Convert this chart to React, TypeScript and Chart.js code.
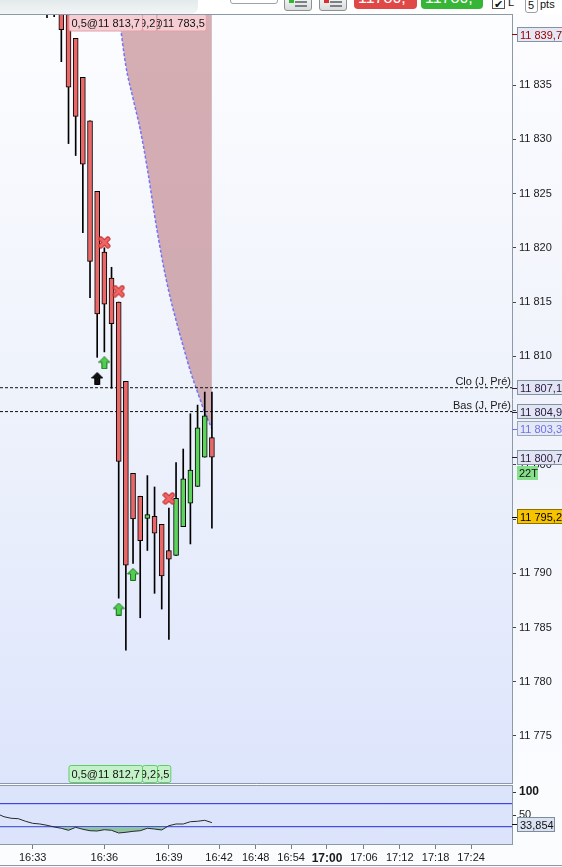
import React, { useEffect, useRef } from 'react';
import { Chart, registerables } from 'chart.js';

Chart.register(...registerables);
Chart.defaults.font.family = "'Liberation Sans', Arial, sans-serif";

// ---- data ----
const candleIdx = [0, 1, 2, 3, 4, 5, 6, 7, 8, 9, 10, 11, 12, 13, 14, 15, 16, 17, 18, 19, 20, 21, 22, 23];
const candleOpen = [11846.0, 11845.0, 11843.0, 11842.5, 11839.3, 11835.7, 11831.7, 11825.2, 11819.6, 11817.2, 11815.0, 11807.7, 11799.2, 11797.1, 11795.05, 11795.25, 11794.5, 11792.1, 11791.65, 11794.3, 11796.45, 11798.0, 11800.7, 11802.5];
const candleHigh = [11848.0, 11846.5, 11844.0, 11843.0, 11839.3, 11835.7, 11831.7, 11825.2, 11820.0, 11818.2, 11815.0, 11807.7, 11799.2, 11797.1, 11799.0, 11797.95, 11794.5, 11796.0, 11800.2, 11801.45, 11804.7, 11805.5, 11806.7, 11806.7];
const candleLow = [11841.2, 11841.3, 11837.15, 11829.6, 11828.5, 11821.4, 11815.4, 11809.9, 11810.4, 11807.05, 11787.7, 11782.9, 11790.9, 11785.9, 11792.1, 11788.15, 11786.7, 11783.9, 11791.65, 11794.3, 11792.7, 11798.0, 11800.7, 11794.15];
const candleClose = [11843.0, 11842.5, 11840.1, 11834.8, 11832.1, 11827.7, 11818.75, 11813.9, 11814.8, 11813.0, 11800.3, 11790.75, 11795.0, 11793.0, 11795.4, 11793.7, 11789.75, 11791.3, 11796.9, 11798.7, 11799.5, 11803.4, 11804.5, 11800.7];

const rsiIdx = [-7, -6, -5, -4, -3, -2, -1, 0, 1, 2, 3, 4, 5, 6, 7, 8, 9, 10, 11, 12, 13, 14, 15, 16, 17, 18, 19, 20, 21, 22, 23];
const rsiVal = [53.4, 46.7, 43.3, 42.4, 36.8, 32.4, 30.9, 28.1, 24.4, 21.6, 17.2, 23.7, 19.4, 16.3, 15.7, 18.5, 17.2, 11.4, 12.9, 15.0, 16.3, 21.6, 20.0, 17.9, 27.2, 30.9, 30.9, 35.9, 36.8, 38.9, 33.854];
const rsiBands = [75, 25];
const rsiTicks = [50, 100];

const curveIdx = [10, 11, 12, 13, 14, 15, 16, 17, 18, 19, 20, 21, 22, 23];
const curveVal = [11841.6, 11836.75, 11833.76, 11830.9, 11827.26, 11823.02, 11819.15, 11815.94, 11813.3, 11810.92, 11808.61, 11806.68, 11804.84, 11803.3];

const sellIdx = [8, 10, 17];
const sellPx = [11820.5, 11816.0, 11796.9];
const buyIdx = [8, 10, 12];
const buyPx = [11809.4, 11786.7, 11789.9];
const entryIdx = [7];
const entryPx = [11807.95];

const priorLevels = [11807.1, 11804.9];
const priorLabels = ['Clo (J, Pré)', 'Bas (J, Pré)'];

const tagValues = [11839.7, 11807.1, 11804.9, 11803.3, 11800.7, 11795.2];
const barCountLabel = '22T';
const rsiLast = 33.854;

const topOrderTags = ['0,5@11 813,7', '0,5@11 799,2', '0,5@11 783,5'];
const bottomOrderTags = ['0,5@11 812,7', '0,5@11 799,2', '0,5@11 785,5'];

const priceTicks = [11775, 11780, 11785, 11790, 11795, 11800, 11805, 11810, 11815, 11820, 11825, 11830, 11835];
const timeTickPos = [-2, 8, 17, 24, 29.1, 34.05, 39.05, 44.2, 49.2, 54.2, 59.15];
const timeTickLabels = ['16:33', '16:36', '16:39', '16:42', '16:48', '16:54', '17:00', '17:06', '17:12', '17:18', '17:24'];

// ---- view settings ----
const X_MIN = -6.555;
const X_MAX = 64.854;
const Y_MIN = 11770.576;
const Y_MAX = 11841.544;
const R_MIN = -12.53;
const R_MAX = 115.57;

const TOP_TAG_WIDTHS = [73.5, 14.4, 49.4];
const BOTTOM_TAG_WIDTHS = [73.5, 15, 13.3];

const tagStyles = [
  { color: '#a00000', fill: '#e3e8f4', border: '#8493a3' },
  { color: '#2b1846', fill: '#e0e5f1', border: '#8493a3' },
  { color: '#2b1846', fill: '#e0e5f1', border: '#8493a3' },
  { color: '#7070ee', fill: '#e3e8f4', border: '#9aa7b6' },
  { color: '#2b1846', fill: '#e0e5f1', border: '#8493a3' },
  { color: '#000000', fill: '#f7c300', border: '#8a7000' },
];

const FRAME = '#8b9aa6';
const FONT = "'Liberation Sans', Arial, sans-serif";

function fmtNum(v: number, dec: number): string {
  const s = v.toFixed(dec);
  const [ip, dp] = s.split('.');
  const w = ip.replace(/\B(?=(\d{3})+(?!\d))/g, ' ');
  return dp ? w + ',' + dp : w;
}

function makeCross(): HTMLCanvasElement {
  const c = document.createElement('canvas');
  c.width = 13;
  c.height = 13;
  const g = c.getContext('2d')!;
  g.lineCap = 'round';
  const path = () => {
    g.beginPath();
    g.moveTo(3, 3);
    g.lineTo(10, 10);
    g.moveTo(10, 3);
    g.lineTo(3, 10);
  };
  g.strokeStyle = '#c03030';
  g.lineWidth = 5;
  path();
  g.stroke();
  g.strokeStyle = '#f26565';
  g.lineWidth = 3;
  path();
  g.stroke();
  return c;
}

function makeArrow(fill: string, stroke: string): HTMLCanvasElement {
  const c = document.createElement('canvas');
  c.width = 12;
  c.height = 13;
  const g = c.getContext('2d')!;
  g.beginPath();
  g.moveTo(6, 0.5);
  g.lineTo(11.5, 6);
  g.lineTo(8.5, 6);
  g.lineTo(8.5, 12.5);
  g.lineTo(3.5, 12.5);
  g.lineTo(3.5, 6);
  g.lineTo(0.5, 6);
  g.closePath();
  g.fillStyle = fill;
  g.fill();
  g.strokeStyle = stroke;
  g.lineWidth = 1;
  g.stroke();
  return c;
}

function rr(ctx: CanvasRenderingContext2D, x: number, y: number, w: number, h: number, r: number) {
  ctx.beginPath();
  ctx.moveTo(x + r, y);
  ctx.lineTo(x + w - r, y);
  ctx.quadraticCurveTo(x + w, y, x + w, y + r);
  ctx.lineTo(x + w, y + h - r);
  ctx.quadraticCurveTo(x + w, y + h, x + w - r, y + h);
  ctx.lineTo(x + r, y + h);
  ctx.quadraticCurveTo(x, y + h, x, y + h - r);
  ctx.lineTo(x, y + r);
  ctx.quadraticCurveTo(x, y, x + r, y);
  ctx.closePath();
}

function drawOrderRow(ctx: CanvasRenderingContext2D, left: number, top: number, texts: string[], widths: number[], fill: string, stroke: string) {
  let x = left;
  texts.forEach((t, i) => {
    const w = widths[i];
    ctx.save();
    rr(ctx, x + 0.5, top + 0.5, w, 17, 2);
    ctx.fillStyle = fill;
    ctx.fill();
    ctx.strokeStyle = stroke;
    ctx.lineWidth = 1;
    ctx.stroke();
    ctx.clip();
    ctx.fillStyle = '#111';
    ctx.font = `11px ${FONT}`;
    ctx.textBaseline = 'alphabetic';
    if (i === 0) {
      ctx.textAlign = 'left';
      ctx.fillText(t, x + 3, top + 13);
    } else {
      ctx.textAlign = 'right';
      ctx.fillText(t, x + w - 1, top + 13);
    }
    ctx.restore();
    x += w;
  });
}

function drawAxisTag(ctx: CanvasRenderingContext2D, right: number, y: number, text: string, st: { color: string; fill: string; border: string }, w: number) {
  ctx.save();
  const top = Math.round(y - 7.5) + 0.5;
  ctx.strokeStyle = st.color;
  ctx.lineWidth = 1;
  ctx.beginPath();
  ctx.moveTo(right, Math.round(y) + 0.5);
  ctx.lineTo(right + 5, Math.round(y) + 0.5);
  ctx.stroke();
  ctx.fillStyle = st.fill;
  ctx.fillRect(right + 5.5, top, w, 14);
  ctx.strokeStyle = st.border;
  ctx.strokeRect(right + 5.5, top, w, 14);
  ctx.fillStyle = st.color;
  ctx.font = `11px ${FONT}`;
  ctx.textAlign = 'left';
  ctx.textBaseline = 'alphabetic';
  ctx.fillText(text, right + 8, top + 11);
  ctx.restore();
}

const mainPlugin = {
  id: 'mainDecor',
  beforeDraw(chart: any) {
    const { ctx, chartArea: a, width, height } = chart;
    ctx.save();
    const g = ctx.createLinearGradient(0, a.top, 0, a.bottom);
    g.addColorStop(0, '#fcfdff');
    g.addColorStop(0.5, '#eef2fb');
    g.addColorStop(1, '#dde5fc');
    ctx.fillStyle = g;
    ctx.fillRect(a.left, a.top, a.right - a.left, a.bottom - a.top);
    const g2 = ctx.createLinearGradient(0, a.top, 0, height);
    g2.addColorStop(0, '#fdfdff');
    g2.addColorStop(0.5, '#eff2fb');
    g2.addColorStop(1, '#fbfcff');
    ctx.fillStyle = g2;
    ctx.fillRect(a.right, a.top, width - a.right, height - a.top);
    ctx.restore();
  },
  afterDraw(chart: any) {
    const { ctx, chartArea: a, scales } = chart;
    const ys = scales.y;
    const xs = scales.x;
    ctx.save();
    // frame
    ctx.strokeStyle = FRAME;
    ctx.lineWidth = 1;
    ctx.beginPath();
    ctx.moveTo(0, a.top + 0.5);
    ctx.lineTo(a.right + 0.5, a.top + 0.5);
    ctx.moveTo(0, a.bottom - 0.5);
    ctx.lineTo(a.right + 0.5, a.bottom - 0.5);
    ctx.stroke();
    // prior-day level labels
    ctx.fillStyle = '#1a1a1a';
    ctx.font = `11px ${FONT}`;
    ctx.textAlign = 'right';
    ctx.textBaseline = 'alphabetic';
    priorLevels.forEach((lv, i) => {
      ctx.fillText(priorLabels[i], a.right - 1, ys.getPixelForValue(lv) - 3);
    });
    ctx.restore();
    // order tags
    const left = Math.round(xs.getPixelForValue(3)) - 0.5;
    drawOrderRow(ctx, left, a.top - 0.5, topOrderTags, TOP_TAG_WIDTHS, '#f6cdd2', '#e3a0a8');
    drawOrderRow(ctx, left, a.bottom - 19, bottomOrderTags, BOTTOM_TAG_WIDTHS, '#c3f1c8', '#5fcf66');
    // axis tags
    tagValues.forEach((v, i) => {
      drawAxisTag(ctx, a.right, ys.getPixelForValue(v), fmtNum(v, 1), tagStyles[i], 50);
    });
    // bar count tag under the last price tag
    const py = ys.getPixelForValue(candleClose[candleClose.length - 1]);
    ctx.save();
    ctx.fillStyle = '#86df8a';
    ctx.fillRect(a.right + 5, Math.round(py + 9), 21, 14);
    ctx.fillStyle = '#111';
    ctx.font = `11px ${FONT}`;
    ctx.textAlign = 'left';
    ctx.fillText(barCountLabel, a.right + 7, Math.round(py + 9) + 11);
    ctx.restore();
  },
};

const rsiPlugin = {
  id: 'rsiDecor',
  beforeDraw(chart: any) {
    const { ctx, chartArea: a, width, height } = chart;
    ctx.save();
    ctx.fillStyle = '#fbfcfe';
    ctx.fillRect(0, 0, width, height);
    ctx.fillStyle = '#dce4fc';
    ctx.fillRect(a.left, a.top, a.right - a.left, a.bottom - a.top);
    ctx.restore();
  },
  afterDraw(chart: any) {
    const { ctx, chartArea: a, scales, width, height } = chart;
    ctx.save();
    ctx.strokeStyle = FRAME;
    ctx.lineWidth = 1;
    ctx.beginPath();
    ctx.moveTo(0, a.top + 0.5);
    ctx.lineTo(a.right + 0.5, a.top + 0.5);
    ctx.moveTo(0, height - 1.5);
    ctx.lineTo(width, height - 1.5);
    ctx.stroke();
    ctx.restore();
    drawAxisTag(ctx, a.right, scales.y.getPixelForValue(rsiLast) + 1.5, fmtNum(rsiLast, 3), { color: '#111', fill: '#dbe2f1', border: '#7d8d9d' }, 37);
  },
};

export default function App() {
  const mainRef = useRef<HTMLCanvasElement>(null);
  const rsiRef = useRef<HTMLCanvasElement>(null);

  useEffect(() => {
    document.body.style.margin = '0';
    const cross = makeCross();
    const greenArrow = makeArrow('#4fcf4f', '#1d6e1d');
    const blackArrow = makeArrow('#111111', '#000000');

    const yAfterFit = (s: any) => {
      s.width = 50;
      s.paddingTop = 0;
      s.paddingBottom = 0;
    };

    const main = new Chart(mainRef.current!, {
      type: 'bar',
      data: {
        datasets: [
          {
            type: 'line',
            data: curveIdx.map((x, i) => ({ x, y: curveVal[i] })),
            borderColor: '#7272ff',
            borderWidth: 1.5,
            borderDash: [3, 2],
            pointRadius: 0,
            cubicInterpolationMode: 'monotone',
            fill: 'end',
            backgroundColor: 'rgba(186,122,128,0.6)',
            clip: 0,
            order: 6,
          } as any,
          ...priorLevels.map((lv) => ({
            type: 'line',
            data: [{ x: X_MIN, y: lv }, { x: X_MAX, y: lv }],
            borderColor: '#111',
            borderWidth: 1,
            borderDash: [3, 2],
            pointRadius: 0,
            fill: false,
            clip: 0,
            order: 5,
          } as any)),
          {
            type: 'bar',
            data: candleIdx.map((x, i) => ({ x, y: [candleLow[i], candleHigh[i]] })),
            backgroundColor: '#000',
            barThickness: 1,
            grouped: false,
            clip: 0,
            order: 4,
          } as any,
          {
            type: 'bar',
            data: candleIdx.map((x, i) => ({ x, y: [candleOpen[i], candleClose[i]] })),
            backgroundColor: candleIdx.map((_, i) => (candleClose[i] >= candleOpen[i] ? '#5cd45c' : '#e96767')),
            borderColor: '#000',
            borderWidth: 1,
            borderSkipped: false,
            barThickness: 5,
            grouped: false,
            clip: 0,
            order: 3,
          } as any,
          {
            type: 'line',
            data: sellIdx.map((x, i) => ({ x, y: sellPx[i] })),
            showLine: false,
            pointStyle: cross,
            pointRadius: 6,
            order: 1,
          } as any,
          {
            type: 'line',
            data: buyIdx.map((x, i) => ({ x, y: buyPx[i] })),
            showLine: false,
            pointStyle: greenArrow,
            pointRadius: 6,
            order: 1,
          } as any,
          {
            type: 'line',
            data: entryIdx.map((x, i) => ({ x, y: entryPx[i] })),
            showLine: false,
            pointStyle: blackArrow,
            pointRadius: 6,
            order: 1,
          } as any,
        ],
      },
      options: {
        responsive: false,
        animation: false,
        devicePixelRatio: 1,
        events: [],
        layout: { autoPadding: false, padding: { top: 14, bottom: 0, left: 0, right: 0 } },
        plugins: { legend: { display: false }, tooltip: { enabled: false } },
        scales: {
          x: {
            type: 'linear',
            min: X_MIN,
            max: X_MAX,
            bounds: 'data',
            display: false,
            offset: false,
            grid: { offset: false },
          },
          y: {
            type: 'linear',
            position: 'right',
            min: Y_MIN,
            max: Y_MAX,
            bounds: 'data',
            afterBuildTicks: (s: any) => {
              s.ticks = priceTicks.map((v) => ({ value: v }));
            },
            afterFit: yAfterFit,
            ticks: {
              callback: (v: any) => fmtNum(Number(v), 0),
              color: '#1a1a1a',
              font: { size: 11 },
              padding: 3,
              autoSkip: false,
            },
            grid: { drawOnChartArea: false, tickLength: 4, color: '#444' },
            border: { display: true, color: FRAME },
          },
        },
      } as any,
      plugins: [mainPlugin],
    });

    const rsi = new Chart(rsiRef.current!, {
      type: 'line',
      data: {
        datasets: [
          {
            data: rsiIdx.map((x, i) => ({ x, y: rsiVal[i] })),
            borderColor: '#2a2a2a',
            borderWidth: 1,
            pointRadius: 0,
            tension: 0,
            fill: { target: { value: rsiBands[1] }, above: 'rgba(0,0,0,0)', below: '#8fc4a0' },
            clip: 0,
            order: 1,
          } as any,
          ...rsiBands.map((b) => ({
            data: [{ x: X_MIN, y: b }, { x: X_MAX, y: b }],
            borderColor: '#2525dd',
            borderWidth: 1,
            pointRadius: 0,
            fill: false,
            clip: 0,
            order: 2,
          } as any)),
        ],
      },
      options: {
        responsive: false,
        animation: false,
        devicePixelRatio: 1,
        events: [],
        layout: { autoPadding: false, padding: { top: 1, bottom: 0, left: 0, right: 0 } },
        plugins: { legend: { display: false }, tooltip: { enabled: false } },
        scales: {
          x: {
            type: 'linear',
            min: X_MIN,
            max: X_MAX,
            bounds: 'data',
            offset: false,
            afterBuildTicks: (s: any) => {
              s.ticks = timeTickPos.map((v) => ({ value: v }));
            },
            afterFit: (s: any) => {
              s.height = 23;
              s.paddingLeft = 0;
              s.paddingRight = 0;
            },
            ticks: {
              callback: (_v: any, i: number) => timeTickLabels[i],
              color: '#1a1a1a',
              font: (c: any) => (c.index === 6 ? { size: 12, weight: 'bold' } : { size: 11 }),
              padding: 2,
              autoSkip: false,
              maxRotation: 0,
              minRotation: 0,
            },
            grid: { drawOnChartArea: false, tickLength: 5, color: '#6f7f8c', offset: false },
            border: { display: true, color: FRAME },
          },
          y: {
            type: 'linear',
            position: 'right',
            min: R_MIN,
            max: R_MAX,
            bounds: 'data',
            afterBuildTicks: (s: any) => {
              s.ticks = rsiTicks.map((v) => ({ value: v }));
            },
            afterFit: yAfterFit,
            ticks: {
              callback: (v: any) => String(v),
              color: '#1a1a1a',
              font: (c: any) => (c.tick && c.tick.value === 100 ? { size: 12, weight: 'bold' } : { size: 11 }),
              padding: 3,
              autoSkip: false,
            },
            grid: { drawOnChartArea: false, tickLength: 4, color: '#333' },
            border: { display: true, color: FRAME },
          },
        },
      } as any,
      plugins: [rsiPlugin],
    });

    return () => {
      main.destroy();
      rsi.destroy();
    };
  }, []);

  const btnText: React.CSSProperties = {
    position: 'absolute',
    left: 4,
    top: -6,
    fontSize: 16,
    lineHeight: '16px',
    color: '#fff',
    fontFamily: FONT,
    whiteSpace: 'nowrap',
  };

  return (
    <div style={{ position: 'fixed', left: 0, top: 0, width: 562, height: 867, overflow: 'hidden', background: '#ffffff', fontFamily: FONT }}>
      <div style={{ position: 'absolute', left: 0, top: 0 }}>
        <canvas ref={mainRef} width={562} height={784} style={{ display: 'block', width: 562, height: 784 }} />
      </div>
      <div style={{ position: 'absolute', left: 0, top: 784 }}>
        <canvas ref={rsiRef} width={562} height={83} style={{ display: 'block', width: 562, height: 83 }} />
      </div>
      {/* toolbar strip */}
      <div style={{ position: 'absolute', left: 0, top: 0, width: 562, height: 14, background: '#ffffff' }} />
      <div style={{ position: 'absolute', left: 0, top: 0, width: 198, height: 14, background: 'linear-gradient(#e3eaeb, #f2f5f5)', borderBottomRightRadius: 7 }} />
      <div style={{ position: 'absolute', left: 0, top: 14, width: 513, height: 1, background: FRAME }} />
      <div style={{ position: 'absolute', left: 230, top: -6, width: 46, height: 8, background: '#fff', border: '1px solid #9aa4aa', borderRadius: 3 }} />
      <div style={{ position: 'absolute', left: 284, top: -4, width: 26, height: 13, background: 'linear-gradient(#f6f6f6,#d9dcdc)', border: '1px solid #8c9294', borderRadius: 3 }}>
        <div style={{ position: 'absolute', left: 4, top: 0, width: 5, height: 6, background: '#2fb52f' }} />
        <div style={{ position: 'absolute', left: 10, top: 4, width: 12, height: 2, background: '#7b8084' }} />
        <div style={{ position: 'absolute', left: 10, top: 8, width: 12, height: 2, background: '#7b8084' }} />
      </div>
      <div style={{ position: 'absolute', left: 319, top: -4, width: 26, height: 13, background: 'linear-gradient(#f6f6f6,#d9dcdc)', border: '1px solid #8c9294', borderRadius: 3 }}>
        <div style={{ position: 'absolute', left: 4, top: 0, width: 5, height: 6, background: '#d83030' }} />
        <div style={{ position: 'absolute', left: 10, top: 4, width: 12, height: 2, background: '#7b8084' }} />
        <div style={{ position: 'absolute', left: 10, top: 8, width: 12, height: 2, background: '#7b8084' }} />
      </div>
      <div style={{ position: 'absolute', left: 354, top: -4, width: 63, height: 13, background: '#e04848', borderRadius: 4, overflow: 'hidden' }}>
        <span style={btnText}>11780,</span>
      </div>
      <div style={{ position: 'absolute', left: 421, top: -4, width: 62, height: 13, background: '#36b536', borderRadius: 4, overflow: 'hidden' }}>
        <span style={btnText}>11780,</span>
      </div>
      <div style={{ position: 'absolute', left: 492, top: -4, width: 11, height: 11, background: '#fff', border: '1px solid #555', fontSize: 11, lineHeight: '11px', textAlign: 'center', color: '#111' }}>
        <span style={{ position: 'relative', top: 2 }}>✔</span>
      </div>
      <div style={{ position: 'absolute', left: 508, top: -3, fontSize: 11, lineHeight: '11px', color: '#111' }}>L</div>
      <div style={{ position: 'absolute', left: 525, top: -4, width: 11, height: 15, background: '#fff', border: '1px solid #9aa0a4', borderRadius: 3, fontSize: 11, lineHeight: '11px', color: '#111' }}>
        <span style={{ position: 'absolute', left: 2, top: 3 }}>5</span>
      </div>
      <div style={{ position: 'absolute', left: 540, top: -1, fontSize: 11, lineHeight: '11px', color: '#111' }}>pts</div>
    </div>
  );
}
